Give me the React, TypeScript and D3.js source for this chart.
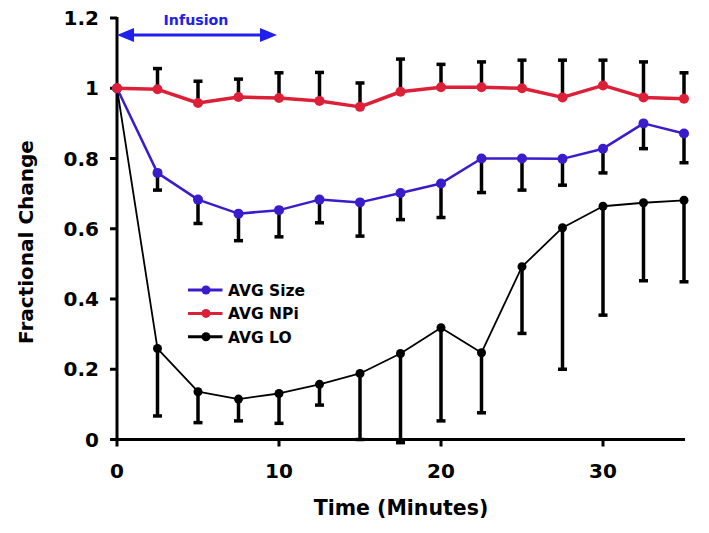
import * as d3 from "d3"

const times = [0, 2.5, 5, 7.5, 10, 12.5, 15, 17.5, 20, 22.5, 25, 27.5, 30, 32.5, 35]

// AVG NPi (red) with upper error bars
const npiValues = [1, 0.997, 0.958, 0.975, 0.972, 0.964, 0.947, 0.99, 1.003, 1.003, 1.0, 0.974, 1.008, 0.974, 0.97]
const npiUpper = [1, 1.056, 1.02, 1.026, 1.044, 1.045, 1.015, 1.083, 1.068, 1.075, 1.08, 1.08, 1.08, 1.075, 1.044]

// AVG Size (blue) with lower error bars
const sizeValues = [1, 0.759, 0.683, 0.643, 0.653, 0.683, 0.675, 0.702, 0.729, 0.8, 0.8, 0.799, 0.828, 0.9, 0.871]
const sizeLower = [1, 0.71, 0.615, 0.566, 0.577, 0.617, 0.579, 0.626, 0.632, 0.703, 0.71, 0.724, 0.759, 0.828, 0.788]

// AVG LO (black) with lower error bars
const loValues = [1, 0.259, 0.136, 0.115, 0.131, 0.157, 0.188, 0.245, 0.318, 0.247, 0.492, 0.603, 0.664, 0.674, 0.681]
const loLower = [1, 0.067, 0.048, 0.053, 0.046, 0.098, 0.0, -0.009, 0.053, 0.076, 0.302, 0.2, 0.354, 0.452, 0.449]

const xTicks = [0, 10, 20, 30]
const yTicks = [0, 0.2, 0.4, 0.6, 0.8, 1, 1.2]
const infusion = [0, 10]

const RED = "#dc2038"
const BLUE = "#3a1ccc"
const ARROW = "#2020ee"
const BLACK = "#000"
const FONT = "'DejaVu Sans', Verdana, sans-serif"

export default function App() {
  const width = 709
  const height = 533

  const x = d3.scaleLinear().domain([0, 35]).range([117, 684])
  const y = d3.scaleLinear().domain([0, 1.2]).range([439.5, 18])

  const line = d3.line<[number, number]>()
    .x(d => x(d[0]))
    .y(d => y(d[1]))

  const series = [
    { name: "AVG LO", color: BLACK, values: loValues, ends: loLower, lw: 1.8, r: 4.5 },
    { name: "AVG Size", color: BLUE, values: sizeValues, ends: sizeLower, lw: 2.5, r: 5 },
    { name: "AVG NPi", color: RED, values: npiValues, ends: npiUpper, lw: 3.5, r: 5 },
  ]
  const legendOrder = [series[1], series[2], series[0]]

  const capW = 4.5
  const arrowY = 35
  const ax0 = x(infusion[0])
  const ax1 = x(infusion[1]) - 2

  return (
    <svg width={width} height={height} style={{ position: "absolute", left: 0, top: 0, background: "#fff" }}
      fontFamily={FONT}>
      {/* error bars */}
      {series.map(s => (
        <g key={"err-" + s.name} stroke={BLACK} strokeWidth={3.5}>
          {times.map((t, i) => i === 0 ? null : (
            <g key={i}>
              <line x1={x(t)} x2={x(t)} y1={y(s.values[i])} y2={y(s.ends[i])} />
              <line x1={x(t) - capW} x2={x(t) + capW} y1={y(s.ends[i])} y2={y(s.ends[i])} />
            </g>
          ))}
        </g>
      ))}

      {/* axes */}
      <g stroke={BLACK} strokeWidth={3}>
        <line x1={x(0)} x2={x(0)} y1={y(1.2) - 1} y2={y(0) + 1.5} />
        <line x1={x(0) - 1.5} x2={x(35) + 1} y1={y(0)} y2={y(0)} />
        {yTicks.map(v => (
          <line key={"yt" + v} x1={x(0) - 7} x2={x(0)} y1={y(v)} y2={y(v)} />
        ))}
        {xTicks.map(v => (
          <line key={"xt" + v} x1={x(v)} x2={x(v)} y1={y(0)} y2={y(0) + 7} />
        ))}
      </g>

      {/* lines and markers */}
      {series.map(s => (
        <g key={"s-" + s.name}>
          <path d={line(times.map((t, i) => [t, s.values[i]] as [number, number])) || ""}
            fill="none" stroke={s.color} strokeWidth={s.lw} strokeLinejoin="round" />
          {times.map((t, i) => (
            <circle key={i} cx={x(t)} cy={y(s.values[i])} r={s.r} fill={s.color} />
          ))}
        </g>
      ))}

      {/* tick labels */}
      <g fontWeight="bold" fontSize={20} fill={BLACK}>
        {yTicks.map(v => (
          <text key={"yl" + v} x={99} y={y(v) + 7} textAnchor="end">{d3.format("~g")(v)}</text>
        ))}
        {xTicks.map(v => (
          <text key={"xl" + v} x={x(v)} y={478} textAnchor="middle">{v}</text>
        ))}
      </g>

      {/* axis titles */}
      <text x={401} y={515} textAnchor="middle" fontWeight="bold" fontSize={20.5}>Time (Minutes)</text>
      <text transform={`translate(33,242) rotate(-90)`} textAnchor="middle" fontWeight="bold" fontSize={20}>
        Fractional Change
      </text>

      {/* infusion arrow */}
      <g fill={ARROW} stroke="none">
        <line x1={ax0 + 10} x2={ax1 - 10} y1={arrowY} y2={arrowY} stroke={ARROW} strokeWidth={3} />
        <path d={`M${ax0},${arrowY} L${ax0 + 17},${arrowY - 7} L${ax0 + 17},${arrowY + 7} Z`} />
        <path d={`M${ax1},${arrowY} L${ax1 - 17},${arrowY - 7} L${ax1 - 17},${arrowY + 7} Z`} />
      </g>
      <text x={(ax0 + ax1) / 2 - 1} y={25} textAnchor="middle" fontWeight="bold" fontSize={14.2} fill={ARROW}>
        Infusion
      </text>

      {/* legend */}
      {legendOrder.map((s, i) => {
        const ly = 290 + i * 23.4
        return (
          <g key={"lg-" + s.name}>
            <line x1={188} x2={222.5} y1={ly} y2={ly} stroke={s.color} strokeWidth={3} />
            <circle cx={206} cy={ly} r={4.5} fill={s.color} />
            <text x={228} y={ly + 5.7} fontWeight="bold" fontSize={15.5} fill={BLACK}>{s.name}</text>
          </g>
        )
      })}
    </svg>
  )
}
